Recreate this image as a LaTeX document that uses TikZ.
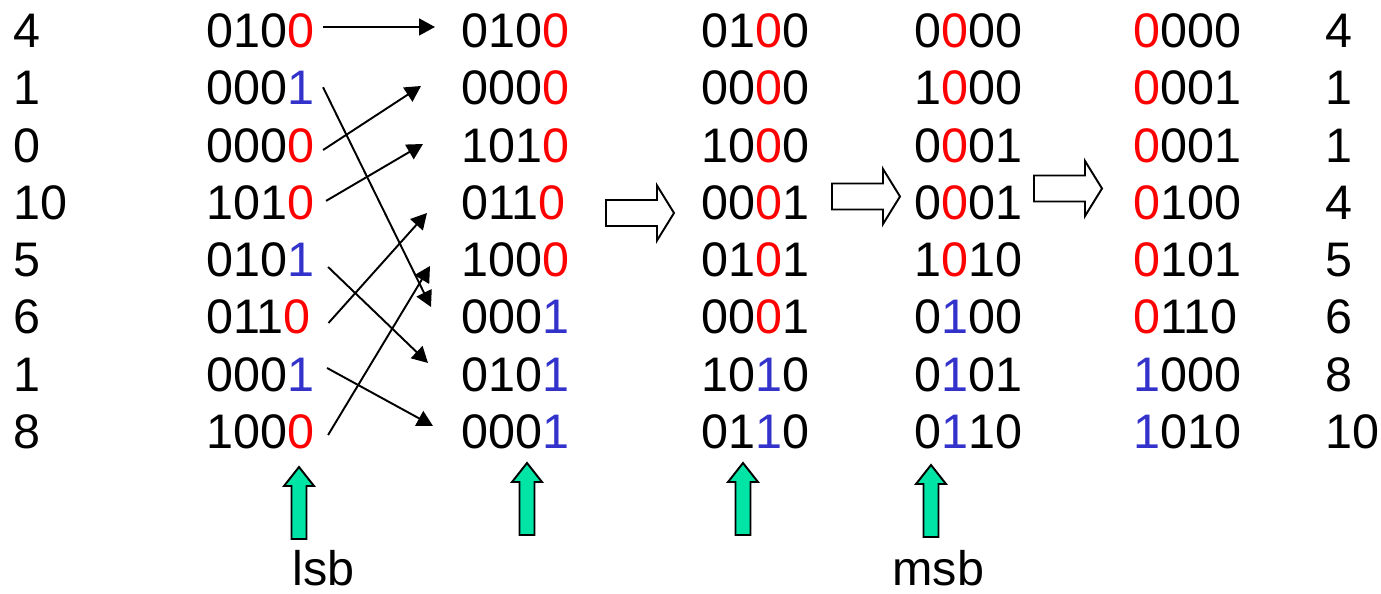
\documentclass[tikz,border=0pt]{standalone}
\usepackage{fontspec}
\setmainfont{Liberation Sans}
\usetikzlibrary{arrows.meta,calc}
\definecolor{bitred}{RGB}{255,0,0}
\definecolor{bitblue}{RGB}{51,51,204}
\definecolor{pointer}{RGB}{0,228,166}
\newcommand\rbit[1]{\textcolor{bitred}{#1}}
\newcommand\bbit[1]{\textcolor{bitblue}{#1}}
\tikzset{
  num/.style={anchor=west,inner sep=0pt,text height=0.7cm,text depth=0pt,
    font=\fontsize{27.6}{34}\selectfont},
  caption/.style={anchor=base west,inner sep=0pt,text depth=0pt,
    font=\fontsize{27.6}{34}\selectfont},
  link/.style={line width=1.1pt,-{Triangle[length=9pt,width=9.5pt]}},
  hollow/.style={draw=black,line width=1.1pt,fill=white,line join=miter},
  pointerarrow/.style={draw=black,line width=1.1pt,fill=pointer,line join=miter},
  blockarrow/.pic={\path[hollow] (0,-13) -- (51,-13) -- (51,-27.5) -- (68,0)
    -- (51,27.5) -- (51,13) -- (0,13) -- cycle;},
  uparrow/.pic={\path[pointerarrow] (0,0) -- (15,19) -- (7.5,19) -- (7.5,72)
    -- (-7.5,72) -- (-7.5,19) -- (-15,19) -- cycle;}
}
\begin{document}
\begin{tikzpicture}[x=0.02cm,y=-0.02cm]
\useasboundingbox (0,0) rectangle (1381,594);

% input keys
\node[num] (k1) at (13,30)    {4};
\node[num] (k2) at (13,87.3)  {1};
\node[num] (k3) at (13,144.6) {0};
\node[num] (k4) at (13,201.9) {10};
\node[num] (k5) at (13,259.2) {5};
\node[num] (k6) at (13,316.5) {6};
\node[num] (k7) at (13,373.8) {1};
\node[num] (k8) at (13,431.1) {8};

% pass 0: bit 0 highlighted
\node[num] (a1) at (206,30)    {010\rbit{0}};
\node[num] (a2) at (206,87.3)  {000\bbit{1}};
\node[num] (a3) at (206,144.6) {000\rbit{0}};
\node[num] (a4) at (206,201.9) {101\rbit{0}};
\node[num] (a5) at (206,259.2) {010\bbit{1}};
\node[num] (a6) at (206,316.5) {011\rbit{0}};
\node[num] (a7) at (206,373.8) {000\bbit{1}};
\node[num] (a8) at (206,431.1) {100\rbit{0}};

% after stable split on bit 0
\node[num] (b1) at (461,30)    {010\rbit{0}};
\node[num] (b2) at (461,87.3)  {000\rbit{0}};
\node[num] (b3) at (461,144.6) {101\rbit{0}};
\node[num] (b4) at (461,201.9) {011\rbit{0}};
\node[num] (b5) at (461,259.2) {100\rbit{0}};
\node[num] (b6) at (461,316.5) {000\bbit{1}};
\node[num] (b7) at (461,373.8) {010\bbit{1}};
\node[num] (b8) at (461,431.1) {000\bbit{1}};

% after bit 1
\node[num] (c1) at (701,30)    {01\rbit{0}0};
\node[num] (c2) at (701,87.3)  {00\rbit{0}0};
\node[num] (c3) at (701,144.6) {10\rbit{0}0};
\node[num] (c4) at (701,201.9) {00\rbit{0}1};
\node[num] (c5) at (701,259.2) {01\rbit{0}1};
\node[num] (c6) at (701,316.5) {00\rbit{0}1};
\node[num] (c7) at (701,373.8) {10\bbit{1}0};
\node[num] (c8) at (701,431.1) {01\bbit{1}0};

% after bit 2
\node[num] (d1) at (914,30)    {0\rbit{0}00};
\node[num] (d2) at (914,87.3)  {1\rbit{0}00};
\node[num] (d3) at (914,144.6) {0\rbit{0}01};
\node[num] (d4) at (914,201.9) {0\rbit{0}01};
\node[num] (d5) at (914,259.2) {1\rbit{0}10};
\node[num] (d6) at (914,316.5) {0\bbit{1}00};
\node[num] (d7) at (914,373.8) {0\bbit{1}01};
\node[num] (d8) at (914,431.1) {0\bbit{1}10};

% after bit 3: sorted
\node[num] (e1) at (1133,30)    {\rbit{0}000};
\node[num] (e2) at (1133,87.3)  {\rbit{0}001};
\node[num] (e3) at (1133,144.6) {\rbit{0}001};
\node[num] (e4) at (1133,201.9) {\rbit{0}100};
\node[num] (e5) at (1133,259.2) {\rbit{0}101};
\node[num] (e6) at (1133,316.5) {\rbit{0}110};
\node[num] (e7) at (1133,373.8) {\bbit{1}000};
\node[num] (e8) at (1133,431.1) {\bbit{1}010};

% output keys
\node[num] (f1) at (1325,30)    {4};
\node[num] (f2) at (1325,87.3)  {1};
\node[num] (f3) at (1325,144.6) {1};
\node[num] (f4) at (1325,201.9) {4};
\node[num] (f5) at (1325,259.2) {5};
\node[num] (f6) at (1325,316.5) {6};
\node[num] (f7) at (1325,373.8) {8};
\node[num] (f8) at (1325,431.1) {10};

% moves of the first pass
\draw[link] ($(a1.east)+(8.5,-3)$)   -- ($(b1.west)+(-26,-3)$);
\draw[link] ($(a2.east)+(8.5,0)$)    -- ($(b6.west)+(-30,-9.5)$);
\draw[link] ($(a3.east)+(8.5,5.4)$)  -- ($(b2.west)+(-40,-1.3)$);
\draw[link] ($(a4.east)+(11.5,-1)$)  -- ($(b3.west)+(-38,-0.6)$);
\draw[link] ($(a5.east)+(13.5,7.8)$) -- ($(b7.west)+(-33,-10.8)$);
\draw[link] ($(a6.east)+(17.5,6.5)$) -- ($(b4.west)+(-34,11.1)$);
\draw[link] ($(a7.east)+(12.5,-5.8)$) -- ($(b8.west)+(-28,-5.1)$);
\draw[link] ($(a8.east)+(13.5,3.9)$) -- ($(b5.west)+(-31,6.8)$);

% hollow arrows between passes
\pic at (606,213)    {blockarrow};
\pic at (832,196.5)  {blockarrow};
\pic at (1034,188.5) {blockarrow};

% current bit pointers
\pic at (299,467) {uparrow};
\pic at (527,463) {uparrow};
\pic at (743,463) {uparrow};
\pic at (931,465) {uparrow};

\node[caption] (lsb) at (292,585) {lsb};
\node[caption] (msb) at (892,585) {msb};
\end{tikzpicture}
\end{document}
